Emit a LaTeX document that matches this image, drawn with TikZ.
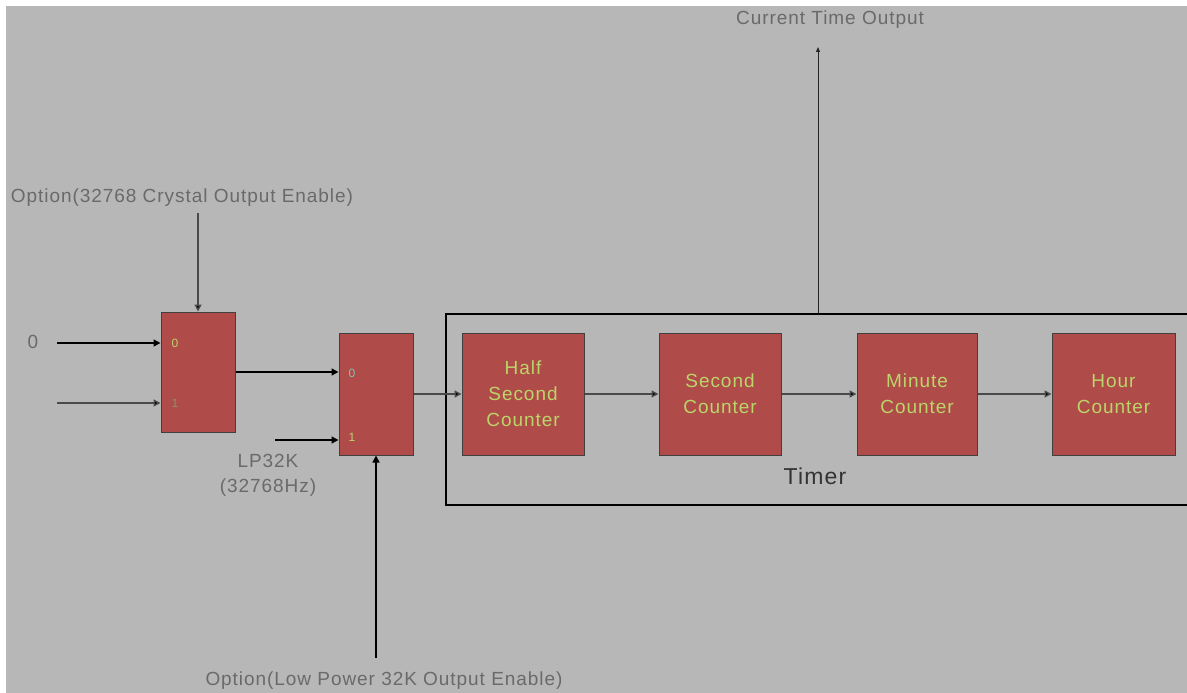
\documentclass[tikz,border=0pt]{standalone}
\usepackage{fontspec}
\setmainfont[LetterSpace=5]{Liberation Sans}
\usetikzlibrary{arrows.meta}
\definecolor{bg}{HTML}{B7B7B7}
\definecolor{boxred}{HTML}{AF4B48}
\definecolor{boxtxt}{HTML}{BCD46A}
\definecolor{lbl}{HTML}{6A6A6A}
\definecolor{gline}{HTML}{4A4A4A}
\begin{document}
\begin{tikzpicture}[x=1pt,y=-1pt,
  redbox/.style={draw=black!75,line width=1pt,fill=boxred,text=boxtxt,align=center,inner sep=0pt,
    font=\fontsize{19}{26}\selectfont},
  pinlbl/.style={text=boxtxt,font=\fontsize{12}{13}\selectfont,inner sep=0pt},
  lbltxt/.style={text=lbl,font=\fontsize{19}{25}\selectfont,inner sep=0pt,align=center},
  arr/.style={draw=black,line width=1.4pt,-{Triangle[length=7pt,width=7pt]}},
  garr/.style={draw=gline,line width=1.4pt,-{Triangle[length=7pt,width=7pt,fill=black]}}]
\useasboundingbox (0,0) rectangle (1187,693);
\fill[white] (0,0) rectangle (1187,693);
\fill[bg] (6,6) rectangle (1187,693);

% Timer frame
\node[draw=black,line width=2.5pt,minimum width=749pt,minimum height=191pt,inner sep=0pt] (timer) at (820.5,409.5) {};
\node[text=black!80,font=\fontsize{23}{26}\selectfont,inner sep=0pt] (timerlbl) at (815,476) {Timer};

% Muxes
\node[redbox,minimum width=74pt,minimum height=120pt] (m1) at (198,372) {};
\node[redbox,minimum width=74pt,minimum height=122pt] (m2) at (376,394) {};
\node[pinlbl] (m1a) at (175,343) {0};
\node[pinlbl,text=lbl!60!boxtxt] (m1b) at (175,403) {1};
\node[pinlbl,text=cyan!40!boxtxt] (m2a) at (352,373) {0};
\node[pinlbl] (m2b) at (352,437) {1};

% Counters
\node[redbox,minimum width=122pt,minimum height=122pt] (hs) at (523,394) {Half\\Second\\Counter};
\node[redbox,minimum width=122pt,minimum height=122pt] (sc) at (720,394) {Second\\Counter};
\node[redbox,minimum width=120pt,minimum height=122pt] (mc) at (917,394) {Minute\\Counter};
\node[redbox,minimum width=123pt,minimum height=122pt] (hc) at (1113.5,394) {Hour\\Counter};

% Labels
\node[lbltxt] (opt1) at (182,198) {Option(32768 Crystal Output Enable)};
\node[lbltxt] (opt2) at (384,681) {Option(Low Power 32K Output Enable)};
\node[lbltxt] (cto) at (830,20) {Current Time Output};
\node[lbltxt] (lp) at (268,475) {LP32K\\(32768Hz)};
\node[lbltxt] (zero) at (33,342) {0};

% Free ends
\coordinate (opt1end) at (198,213);
\coordinate (opt2end) at (376,658);
\coordinate (in0) at (57,343);
\coordinate (in1) at (57,403);
\coordinate (in2) at (275,440);
\coordinate (ctoend) at (818,47);

% Connectors
\draw[garr] (opt1end) -- (m1.north);
\draw[arr] (opt2end) -- (m2.south);
\draw[arr] (in0) -- (in0 -| m1.west);
\draw[garr] (in1) -- (in1 -| m1.west);
\draw[arr] (in2) -- (in2 -| m2.west);
\draw[arr] (m1.east |- 0,372) -- (m2.west |- 0,372);
\draw[garr] (m2.east) -- (hs.west);
\draw[garr] (hs.east) -- (sc.west);
\draw[garr] (sc.east) -- (mc.west);
\draw[garr] (mc.east) -- (hc.west);
\draw[draw=black!85,line width=1pt,-{Triangle[length=5pt,width=4pt]}] (timer.north -| ctoend) -- (ctoend);
\end{tikzpicture}
\end{document}
